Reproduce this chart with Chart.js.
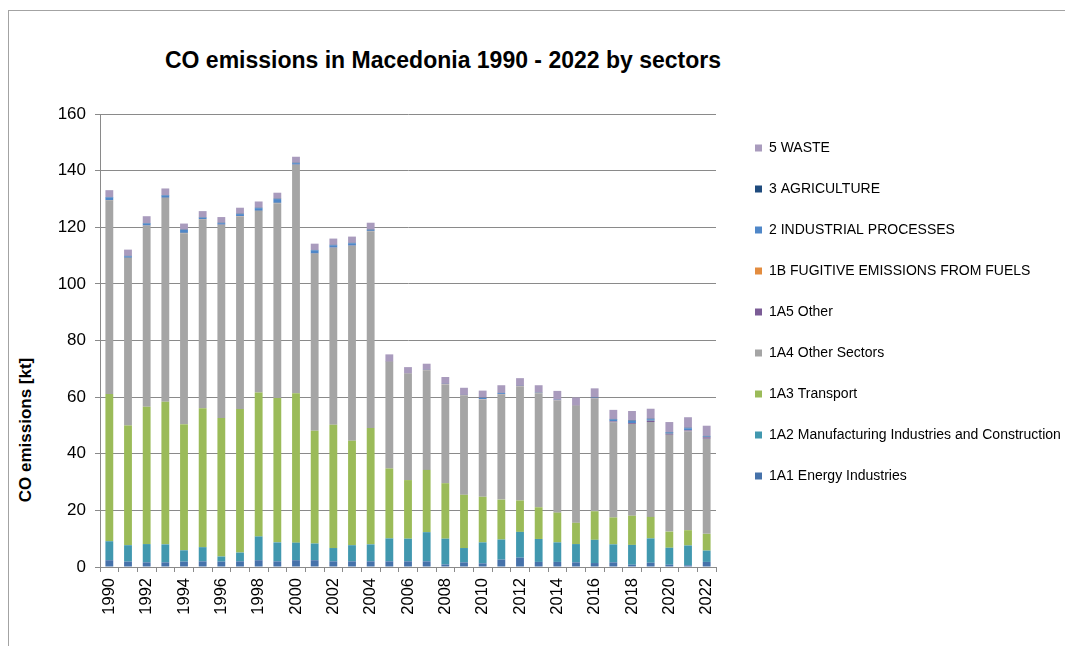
<!DOCTYPE html>
<html>
<head>
<meta charset="utf-8">
<title>CO emissions in Macedonia 1990 - 2022 by sectors</title>
<script src="https://cdn.jsdelivr.net/npm/chart.js@4.4.1/dist/chart.umd.min.js"></script>
<style>
  html, body { margin: 0; padding: 0; background: #fff; width: 1065px; height: 646px; overflow: hidden; }
  body { position: relative; font-family: "Liberation Sans", Arial, sans-serif; }
  #moldura { position: absolute; left: 8px; top: 10px; width: 1100px; height: 700px;
             border-top: 1px solid #a3a3a3; border-left: 1px solid #a3a3a3; }
  #titulo { position: absolute; left: 0; top: 49px; width: 886px; text-align: center;
            font-weight: bold; font-size: 23px; line-height: 23px; color: #000; white-space: nowrap; }
  #eixoY { position: absolute; left: 25.5px; top: 430px; transform: translate(-50%, -50%) rotate(-90deg);
           font-weight: bold; font-size: 17px; color: #000; white-space: nowrap; }
  #caixa { position: absolute; left: 9px; top: 11px; width: 1054px; height: 635px; }
</style>
</head>
<body>
<div id="moldura"></div>
<div id="titulo">CO emissions in Macedonia 1990 - 2022 by sectors</div>
<div id="eixoY">CO emissions [kt]</div>
<div id="caixa"><canvas id="graf"></canvas></div>
<script>
// ---------- dados (kt) ----------
const anos = ["1990", "1991", "1992", "1993", "1994", "1995", "1996", "1997", "1998", "1999",
  "2000", "2001", "2002", "2003", "2004", "2005", "2006", "2007", "2008", "2009",
  "2010", "2011", "2012", "2013", "2014", "2015", "2016", "2017", "2018", "2019",
  "2020", "2021", "2022"];

const energia1A1 = [2.4, 1.9, 1.65, 1.65, 1.9, 2.0, 1.9, 2.0, 2.4, 2.0,
  2.4, 2.4, 2.0, 2.0, 2.0, 2.0, 2.0, 2.0, 0.9, 1.65,
  1.3, 2.6, 3.3, 1.8, 1.8, 1.65, 1.4, 1.65, 0.8, 1.5,
  0.8, 0.6, 1.8];
const manufatura1A2 = [6.7, 5.8, 6.45, 6.35, 4.0, 5.0, 1.8, 3.1, 8.4, 6.7,
  6.2, 5.9, 4.7, 5.7, 6.0, 8.1, 8.0, 10.3, 9.1, 5.05,
  7.4, 7.1, 9.1, 8.1, 6.9, 6.45, 8.2, 6.35, 7.0, 8.6,
  6.0, 7.0, 4.0];
const transporte1A3 = [52.0, 42.3, 48.5, 50.4, 44.5, 49.1, 48.9, 50.7, 50.8, 51.0,
  52.8, 39.8, 43.5, 36.9, 41.1, 24.7, 20.7, 22.0, 19.6, 18.8,
  16.1, 14.1, 11.1, 11.2, 10.5, 7.5, 10.1, 9.5, 10.3, 7.6,
  5.7, 5.4, 5.9];
const outrosSetores1A4 = [68.4, 59.1, 63.9, 71.9, 67.5, 66.7, 68.2, 68.0, 64.1, 68.8,
  80.6, 62.5, 62.5, 68.8, 69.5, 37.6, 37.6, 35.2, 34.9, 35.1,
  34.4, 37.2, 40.3, 40.3, 39.6, 41.3, 39.8, 33.6, 32.4, 33.5,
  34.2, 34.9, 33.6];
const outros1A5 = [0.05, 0.05, 0.05, 0.05, 0.05, 0.05, 0.05, 0.05, 0.05, 0.05,
  0.05, 0.05, 0.05, 0.05, 0.05, 0.05, 0.05, 0.05, 0.05, 0.05,
  0.05, 0.05, 0.05, 0.05, 0.05, 0.05, 0.05, 0.3, 0.3, 0.4,
  0.3, 0.3, 0.5];
const fugitivas1B = [0.05, 0.05, 0.05, 0.05, 0.05, 0.05, 0.05, 0.1, 0.05, 0.05,
  0.05, 0.05, 0.05, 0.05, 0.05, 0.05, 0.05, 0.05, 0.05, 0.05,
  0.05, 0.05, 0.05, 0.05, 0.05, 0.05, 0.05, 0.05, 0.05, 0.05,
  0.05, 0.05, 0.05];
const industria2 = [0.95, 0.55, 0.75, 0.85, 1.05, 0.45, 0.55, 0.7, 0.95, 1.35,
  0.55, 1.15, 0.85, 0.85, 0.35, 0.02, 0.02, 0.02, 0.02, 0.02,
  0.42, 0.32, 0.02, 0.12, 0.12, 0.02, 0.22, 0.65, 0.75, 0.55,
  0.45, 0.75, 0.25];
const agricultura3 = [0.15, 0.15, 0.15, 0.15, 0.15, 0.15, 0.15, 0.15, 0.15, 0.15,
  0.15, 0.15, 0.15, 0.15, 0.15, 0.08, 0.08, 0.08, 0.08, 0.08,
  0.08, 0.08, 0.08, 0.08, 0.08, 0.08, 0.08, 0.2, 0.2, 0.2,
  0.2, 0.2, 0.2];
const residuos5 = [2.4, 2.2, 2.4, 2.3, 2.1, 2.2, 2.0, 2.1, 2.2, 2.1,
  2.1, 2.2, 2.2, 2.2, 2.4, 2.5, 2.1, 2.1, 2.4, 2.5,
  2.5, 2.7, 2.7, 2.5, 3.1, 2.8, 3.2, 3.2, 3.3, 3.5,
  3.5, 3.7, 3.6];

// de baixo para cima na pilha
const setores = [
  { nome: "1A1 Energy Industries", valores: energia1A1, cor: "#4672aa" },
  { nome: "1A2 Manufacturing Industries and Construction", valores: manufatura1A2, cor: "#4198af" },
  { nome: "1A3 Transport", valores: transporte1A3, cor: "#9bbb59" },
  { nome: "1A4 Other Sectors", valores: outrosSetores1A4, cor: "#a5a5a5" },
  { nome: "1A5 Other", valores: outros1A5, cor: "#7b5c96" },
  { nome: "1B FUGITIVE EMISSIONS FROM FUELS", valores: fugitivas1B, cor: "#e38c3f" },
  { nome: "2 INDUSTRIAL PROCESSES", valores: industria2, cor: "#4f87c8" },
  { nome: "3 AGRICULTURE", valores: agricultura3, cor: "#1f4b7d" },
  { nome: "5 WASTE", valores: residuos5, cor: "#a99bbd" },
];

// ---------- gráfico ----------
Chart.defaults.font.family = "'Liberation Sans', Arial, sans-serif";
Chart.defaults.color = "#000";

const CINZA = "#8a8a8a";

new Chart(document.getElementById("graf"), {
  type: "bar",
  data: {
    labels: anos,
    datasets: setores.map((s) => ({
      label: s.nome,
      data: s.valores,
      backgroundColor: s.cor,
      borderColor: s.cor,
      borderWidth: 0,
      categoryPercentage: 1,
      barPercentage: 0.42,
    })),
  },
  options: {
    responsive: true,
    maintainAspectRatio: false,
    animation: false,
    layout: { padding: { top: 103, left: 0, right: 0, bottom: 0 } },
    plugins: {
      title: { display: false },
      tooltip: { enabled: false },
      legend: {
        position: "right",
        align: "start",
        reverse: true,
        maxWidth: 335,
        labels: { boxWidth: 7, boxHeight: 7, padding: 27, color: "#000", font: { size: 14 } },
      },
    },
    scales: {
      x: {
        stacked: true,
        grid: { display: true, offset: true, drawOnChartArea: false, drawTicks: true, tickLength: 5, color: CINZA },
        border: { display: true, color: CINZA, width: 1 },
        ticks: {
          autoSkip: false,
          maxRotation: 90,
          minRotation: 90,
          padding: 6,
          font: { size: 16.5 },
          callback: (v, i) => (i % 2 === 0 ? anos[i] : ""),
        },
        afterFit: (s) => { s.height = 79; },
      },
      y: {
        stacked: true,
        min: 0,
        max: 160,
        grid: { color: CINZA, tickLength: 5, lineWidth: 1 },
        border: { display: true, color: CINZA, width: 1 },
        ticks: { stepSize: 20, padding: 9, font: { size: 17 } },
        afterFit: (s) => { s.width = 91; },
      },
      // espaço entre a área do gráfico e a legenda
      folga: {
        type: "linear",
        position: "right",
        display: true,
        grid: { display: false, drawTicks: false },
        border: { display: false },
        ticks: { display: false },
        afterFit: (s) => { s.width = 12; },
      },
    },
  },
});
</script>
</body>
</html>
